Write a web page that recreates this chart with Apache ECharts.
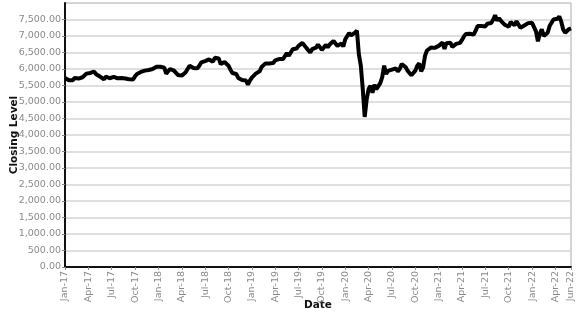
<!DOCTYPE html>
<html>
<head>
<meta charset="utf-8">
<script src="https://cdn.jsdelivr.net/npm/echarts@6/dist/echarts.min.js"></script>
<style>html,body{margin:0;padding:0;background:#fff}#c{width:577px;height:315px}</style>
</head>
<body>
<div id="c"></div>
<script>
// Weekly closing levels (4 readings per month), Jan-2017 .. May-2022, plus Jun-22 start
const monthNames = ['Jan','Feb','Mar','Apr','May','Jun','Jul','Aug','Sep','Oct','Nov','Dec'];
const startYear = 2017;
const close2017 = [5730,5760,5660,5620, 5660,5730,5780,5710, 5770,5750,5780,5860, 5890,5880,5860,5920,
  5840,5830,5770,5720, 5690,5770,5800,5720, 5700,5760,5720,5720, 5770,5730,5770,5710,
  5720,5690,5680,5680, 5780,5850,5900,5910, 5960,5950,6000,5970, 5990,6000,6050,6065];
const close2018 = [6120,6070,6010,6040, 5860,5930,6000,6020, 5950,5930,5820,5760, 5800,5830,5900,6000,
  6100,6050,6030,6010, 6020,6100,6200,6195, 6240,6260,6290,6280, 6220,6340,6330,6320,
  6150,6150,6210,6207, 6100,5980,5880,5830, 5850,5730,5710,5667, 5660,5650,5530,5646];
const close2019 = [5740,5800,5860,5860, 5930,6060,6100,6170, 6210,6170,6180,6180, 6260,6250,6300,6325,
  6300,6350,6480,6400, 6500,6600,6650,6620, 6700,6650,6790,6810, 6640,6570,6500,6600,
  6630,6650,6740,6690, 6580,6650,6730,6660, 6740,6800,6850,6850, 6700,6740,6770,6684];
const close2020 = [6900,6950,7090,7017, 7050,7100,7162,6441, 6100,5400,4546,5077, 5390,5490,5280,5520,
  5390,5400,5570,5755, 6100,5850,5940,5898, 5980,6030,6020,5928, 6000,6150,6110,6060,
  5950,5880,5810,5815, 5950,6100,6170,5928, 6050,6400,6560,6517, 6650,6680,6640,6587];
const close2021 = [6700,6720,6800,6607, 6780,6810,6800,6673, 6710,6760,6800,6790, 6880,6990,7060,7025,
  7070,7010,7040,7161, 7300,7350,7300,7313, 7290,7370,7400,7393, 7490,7628,7470,7535,
  7460,7400,7340,7332, 7280,7420,7420,7324, 7450,7410,7250,7256, 7320,7330,7390,7444];
const close2022 = [7400,7390,7140,6838, 7070,7200,7000,7049, 7100,7300,7400,7499, 7480,7520,7590,7435,
  7200,7100,7150,7211, 7234];

const allCloses = [].concat(close2017, close2018, close2019, close2020, close2021, close2022);
const data = allCloses.map((v, i) => [i / 4, v]);

const chart = echarts.init(document.getElementById('c'), null, {renderer: 'canvas'});
const labelFont = {color: '#8a8a8a', fontSize: 9.5, fontFamily: 'DejaVu Sans'};
chart.setOption({
  animation: false,
  grid: {left: 65, right: 6, top: 3, bottom: 48, show: true, borderColor: '#a8a8a8', borderWidth: 1,
         containLabel: false, outerBoundsMode: 'none'},
  xAxis: {
    type: 'value', min: 0, max: 65, interval: 3,
    name: 'Date', nameLocation: 'middle', nameGap: 33, nameMoveOverlap: false,
    nameTextStyle: {fontWeight: 'bold', fontSize: 10.5, color: '#111', fontFamily: 'DejaVu Sans'},
    axisLine: {show: true, lineStyle: {color: '#111', width: 2}},
    axisTick: {show: true, length: 3, lineStyle: {color: '#888'}},
    splitLine: {show: false},
    axisLabel: Object.assign({}, labelFont, {
      rotate: 90, margin: 4, showMaxLabel: true,
      formatter: v => {
        const y = startYear + Math.floor(v / 12);
        return monthNames[Math.round(v) % 12] + '-' + String(y).slice(2);
      }
    })
  },
  yAxis: {
    type: 'value', min: 0, max: 8000, interval: 500,
    name: 'Closing Level', nameLocation: 'middle', nameGap: 45, nameMoveOverlap: false,
    nameTextStyle: {fontWeight: 'bold', fontSize: 10.5, color: '#111', fontFamily: 'DejaVu Sans'},
    axisLine: {show: true, lineStyle: {color: '#111', width: 2}},
    axisTick: {show: true, length: 3, lineStyle: {color: '#888'}},
    splitLine: {show: true, lineStyle: {color: '#d4d4d4', width: 1.5}},
    axisLabel: Object.assign({}, labelFont, {
      margin: 4, showMaxLabel: false,
      formatter: v => v.toLocaleString('en-US', {minimumFractionDigits: 2, maximumFractionDigits: 2})
    })
  },
  series: [{
    type: 'line', data: data, showSymbol: false, symbol: 'none',
    lineStyle: {color: '#000', width: 4}
  }]
});
</script>
</body>
</html>
